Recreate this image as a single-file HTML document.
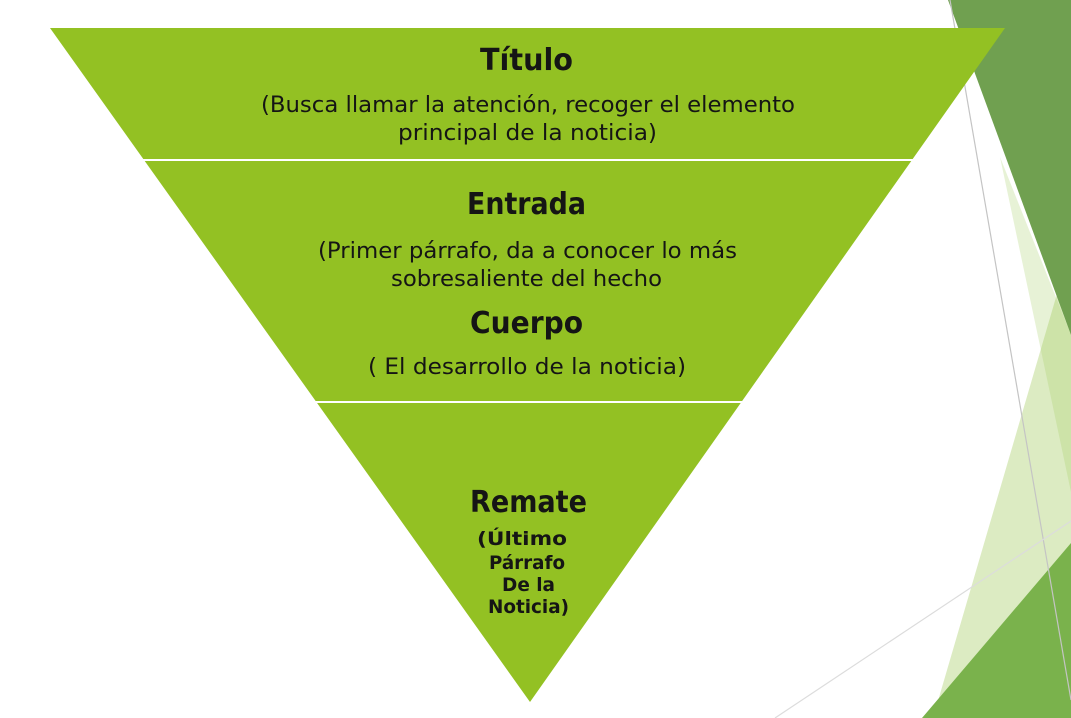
<!DOCTYPE html>
<html><head><style>html,body{margin:0;padding:0;background:#fff;width:1071px;height:718px;overflow:hidden}</style></head>
<body>
<svg width="1071" height="718" viewBox="0 0 1071 718" xmlns="http://www.w3.org/2000/svg" font-family="'DejaVu Sans Condensed','DejaVu Sans','Liberation Sans',sans-serif" fill="#151515">
<polygon points="1071,246 1071,718 933,718" fill="#dcebc2"/>
<polygon points="1000,157 1071,335 1071,492" fill="rgb(160,205,90)" fill-opacity="0.25"/>
<polygon points="948,0 1071,0 1071,335" fill="#70a050"/>
<polygon points="1071,543 1071,718 922,718" fill="#7ab24c"/>
<line x1="950" y1="0" x2="1071" y2="700" stroke="#c4c4c4" stroke-width="1.2"/>
<line x1="775" y1="718" x2="1071" y2="521" stroke="#dcdcdc" stroke-width="1.2"/>
<polygon points="50,28 1005,28 530,702" fill="#93c123"/>
<line x1="140" y1="160" x2="915" y2="160" stroke="#fff" stroke-width="2"/>
<line x1="310" y1="402" x2="745" y2="402" stroke="#fff" stroke-width="2"/>
<g font-weight="bold" font-size="30">
<text x="480" y="70" textLength="93" lengthAdjust="spacingAndGlyphs">Título</text>
<text x="467" y="214" textLength="119" lengthAdjust="spacingAndGlyphs">Entrada</text>
<text x="470" y="333" textLength="113" lengthAdjust="spacingAndGlyphs">Cuerpo</text>
<text x="470" y="512" textLength="117" lengthAdjust="spacingAndGlyphs">Remate</text>
</g>
<g font-size="22">
<text x="261" y="112" textLength="534" lengthAdjust="spacingAndGlyphs">(Busca llamar la atención, recoger el elemento</text>
<text x="398" y="140" textLength="259" lengthAdjust="spacingAndGlyphs">principal de la noticia)</text>
<text x="318" y="258" textLength="419" lengthAdjust="spacingAndGlyphs">(Primer párrafo, da a conocer lo más</text>
<text x="391" y="286" textLength="271" lengthAdjust="spacingAndGlyphs">sobresaliente del hecho</text>
<text x="368" y="374" textLength="318" lengthAdjust="spacingAndGlyphs">( El desarrollo de la noticia)</text>
</g>
<g font-weight="bold" font-size="19">
<text x="477" y="545" textLength="90" lengthAdjust="spacingAndGlyphs">(Último</text>
<text x="489" y="569" textLength="76" lengthAdjust="spacingAndGlyphs">Párrafo</text>
<text x="502" y="591" textLength="53" lengthAdjust="spacingAndGlyphs">De la</text>
<text x="488" y="613" textLength="81" lengthAdjust="spacingAndGlyphs">Noticia)</text>
</g>
</svg>
</body></html>
